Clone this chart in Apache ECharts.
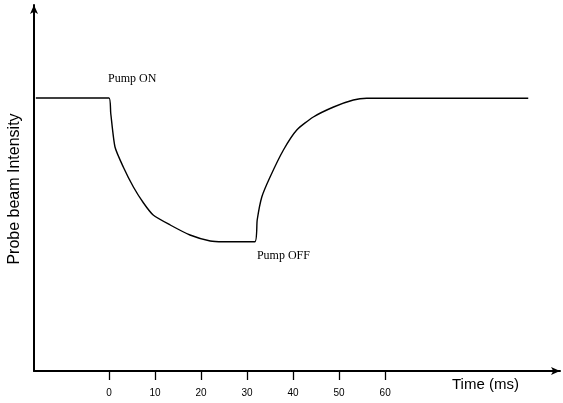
<!DOCTYPE html>
<html>
<head>
<meta charset="utf-8">
<script src="https://cdn.jsdelivr.net/npm/echarts@6/dist/echarts.min.js"></script>
<style>
html,body{margin:0;padding:0;background:#fff;}
#chart{width:563px;height:403px;}
</style>
</head>
<body>
<div id="chart"></div>
<script>
// Time (ms)
var times = [-15.9, 0, 0.37, 1.3, 3.1, 5.3, 7.5, 9.6, 13.3, 17.6, 22.0, 24.8, 31.7, 32.2, 33.2, 35.0, 37.9, 40.8, 44.4, 48.8, 53.1, 56.0, 91.1];
// Probe beam intensity (arbitrary units)
var intensity = [273, 273, 258, 224, 204, 184, 168, 156, 146, 136, 130, 129.3, 129.3, 151, 174, 194, 221, 241, 254, 264, 271, 272.7, 272.7];
var tickValues = [0, 10, 20, 30, 40, 50, 60];
var annotations = [
  {text: 'Pump ON', t: 0, v: 273},
  {text: 'Pump OFF', t: 31.7, v: 129.3}
];

var data = times.map(function (t, i) { return [t, intensity[i]]; });

var chart = echarts.init(document.getElementById('chart'));
chart.setOption({
  animation: false,
  backgroundColor: '#fff',
  grid: {left: 34, right: 3, top: 5, bottom: 32},
  xAxis: {
    type: 'value', min: -16.3, max: 98,
    axisLine: {show: true, onZero: false, symbol: ['none', 'arrow'], symbolSize: [6, 9], lineStyle: {color: '#000', width: 2}},
    axisTick: {show: true, inside: false, length: 9, customValues: tickValues, lineStyle: {color: '#000', width: 1.3}},
    axisLabel: {show: true, customValues: tickValues, margin: 17, color: '#000', fontSize: 10, fontFamily: 'Liberation Sans'},
    splitLine: {show: false}
  },
  yAxis: {
    type: 'value', min: 0, max: 366,
    axisLine: {show: true, onZero: false, symbol: ['none', 'arrow'], symbolSize: [6, 9], lineStyle: {color: '#000', width: 2}},
    axisTick: {show: false}, axisLabel: {show: false}, splitLine: {show: false}
  },
  series: [{
    type: 'line', data: data, showSymbol: false, smooth: 0.2,
    lineStyle: {color: '#000', width: 1.4, join: 'round'}
  }]
});

var p1 = chart.convertToPixel({gridIndex: 0}, [annotations[0].t, annotations[0].v]);
var p2 = chart.convertToPixel({gridIndex: 0}, [annotations[1].t, annotations[1].v]);
chart.setOption({
  graphic: [
    {type: 'text', left: p1[0] - 1, top: p1[1] - 25, style: {text: annotations[0].text, font: '12px "Liberation Serif"', fill: '#000'}},
    {type: 'text', left: p2[0] + 2, top: p2[1] + 8, style: {text: annotations[1].text, font: '12px "Liberation Serif"', fill: '#000'}},
    {type: 'text', left: 452, top: 377, style: {text: 'Time (ms)', font: '15px "Liberation Sans"', fill: '#000'}},
    {type: 'text', x: 15, y: 189, rotation: Math.PI / 2, style: {text: 'Probe beam Intensity', font: '16px "Liberation Sans"', fill: '#000', align: 'center', verticalAlign: 'middle'}}
  ]
});
</script>
</body>
</html>
